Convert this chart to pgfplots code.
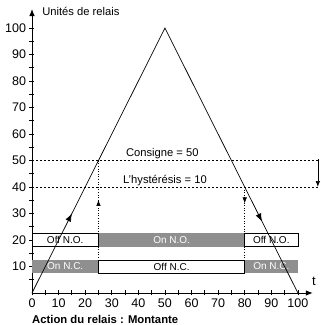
\documentclass[border=0pt]{standalone}
\usepackage{fontspec}
\setmainfont{Liberation Sans}
\usepackage{pgfplots}
\pgfplotsset{compat=1.18}
\usetikzlibrary{arrows.meta,decorations.markings}

\definecolor{boxgray}{gray}{0.56}

\begin{document}
\begin{tikzpicture}[boxtext/.style={font=\fontsize{10}{12}\selectfont, inner sep=0pt}]
\begin{axis}[
    x=2.66pt, y=2.65pt,
    xmin=0, xmax=105.6, ymin=0, ymax=107.2,
    axis lines=left,
    axis line style={line width=0.8pt, -{Latex[length=7pt,width=5.5pt]}},
    clip=false,
    xtick={0,10,...,100}, ytick={10,20,...,100},
    minor xtick={5,15,...,95}, minor ytick={5,15,...,95},
    tick align=center,
    major tick length=5pt, minor tick length=5pt,
    tick style={line width=0.8pt, black},
    ticklabel style={font=\fontsize{12.5}{14}\selectfont},
    /pgf/number format/assume math mode=true,
]

% relay state boxes
\addplot[fill=boxgray, draw=none] coordinates {(25,17.5)(80,17.5)(80,22.5)(25,22.5)} --cycle;
\addplot[fill=boxgray, draw=none] coordinates {(0,7.5)(25,7.5)(25,12.5)(0,12.5)} --cycle;
\addplot[fill=boxgray, draw=none] coordinates {(80,7.5)(100,7.5)(100,12.5)(80,12.5)} --cycle;
\addplot[fill=white, draw=black, line width=0.7pt] coordinates {(0,17.5)(25,17.5)(25,22.5)(0,22.5)} --cycle;
\addplot[fill=white, draw=black, line width=0.7pt] coordinates {(80,17.5)(100,17.5)(100,22.5)(80,22.5)} --cycle;
\addplot[fill=white, draw=black, line width=0.7pt] coordinates {(25,7.5)(80,7.5)(80,12.5)(25,12.5)} --cycle;

\node[boxtext] at (axis cs:12.5,20) {Off N.O.};
\node[boxtext, white] at (axis cs:52.5,20) {On N.O.};
\node[boxtext] at (axis cs:90,20) {Off N.O.};
\node[boxtext, white] at (axis cs:12.5,10) {On N.C.};
\node[boxtext] at (axis cs:52.5,10) {Off N.C.};
\node[boxtext, white] at (axis cs:90,10) {On N.C.};

% thresholds
\addplot[line width=0.6pt, dash pattern=on 2pt off 2pt] coordinates {(0,50)(107.5,50)};
\addplot[line width=0.6pt, dash pattern=on 2pt off 2pt] coordinates {(0,40)(107.5,40)};
\addplot[line width=0.7pt, -{Latex[length=6pt,width=4.5pt]}] coordinates {(107.5,50.5)(107.5,40)};

% switching points
\addplot[line width=0.6pt, dotted, postaction={decorate},
    decoration={markings, mark=at position 0.65 with {\arrow{Latex[length=6pt,width=4.5pt]}}}]
    coordinates {(25,7.5)(25,50)};
\addplot[line width=0.6pt, dotted, postaction={decorate},
    decoration={markings, mark=at position 0.19 with {\arrow{Latex[length=6pt,width=4.5pt]}}}]
    coordinates {(80,40)(80,7.5)};

% relay signal
\addplot[line width=0.7pt, black, postaction={decorate},
    decoration={markings,
        mark=at position 0.15 with {\arrow{Latex[length=8pt,width=6pt]}},
        mark=at position 0.865 with {\arrow{Latex[length=8pt,width=6pt]}}}]
    coordinates {(0,0)(50,100)(100,0)};

\node[anchor=west, inner sep=0pt, font=\fontsize{11.2}{13}\selectfont] at (axis cs:3.8,106.3) {Unités de relais};
\node[font=\fontsize{11.2}{13}\selectfont, inner sep=0pt] at (axis cs:49,52.8) {Consigne = 50};
\node[font=\fontsize{11.2}{13}\selectfont, inner sep=0pt] at (axis cs:50,42.6) {L'hystérésis = 10};
\node[font=\fontsize{13}{15}\selectfont, inner sep=0pt] at (axis cs:106,4.3) {t};
\node[anchor=base west, inner sep=0pt, font=\bfseries\fontsize{11.3}{13}\selectfont] at (axis cs:0,-11.4) {Action du relais : Montante};

\coordinate (bl) at (axis cs:-12.03,-12.08);
\coordinate (tr) at (axis cs:108.6,110.6);
\end{axis}
\path (bl) rectangle (tr);
\end{tikzpicture}
\end{document}
